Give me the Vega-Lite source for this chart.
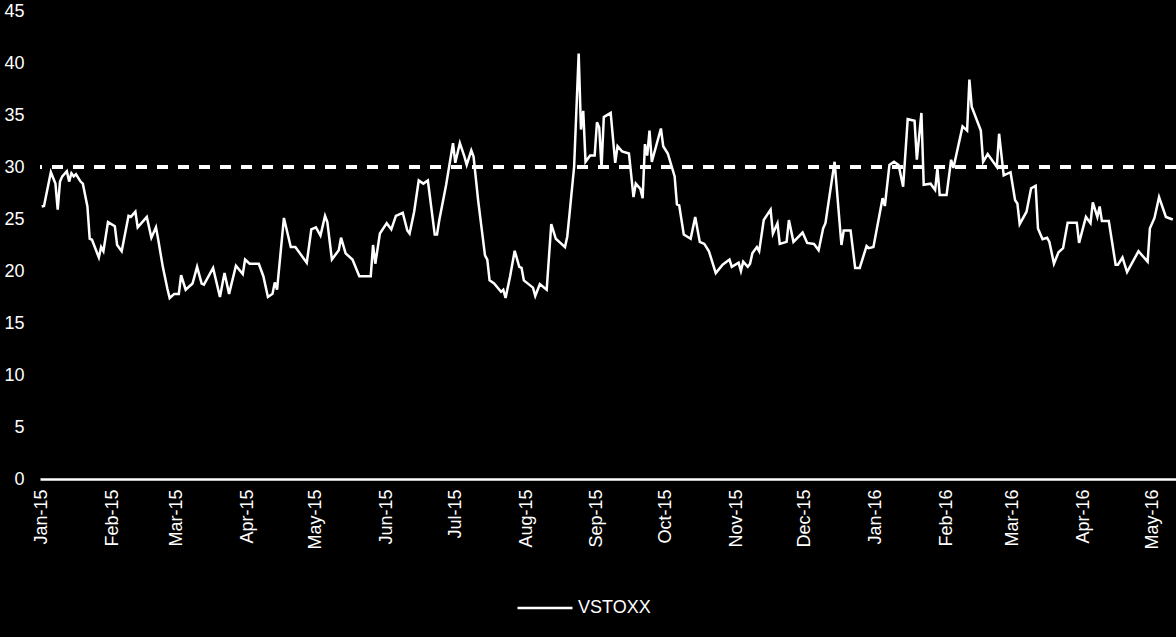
{
"$schema": "https://vega.github.io/schema/vega-lite/v6.json",
"width": 1136,
"height": 468,
"autosize": {"type": "none"},
"padding": {"left": 40, "top": 11, "right": 0, "bottom": 158},
"background": "black",
"config": {"view": {"stroke": null}, "font": "Liberation Sans"},
"data": {"values": [
{"date":"2015-01-01","v":26.2},{"date":"2015-01-02","v":26.25},{"date":"2015-01-05","v":29.5},{"date":"2015-01-07","v":28.4},{"date":"2015-01-08","v":25.9},{"date":"2015-01-09","v":28.6},{"date":"2015-01-10","v":29.1},{"date":"2015-01-12","v":29.6},{"date":"2015-01-13","v":28.6},{"date":"2015-01-14","v":29.4},{"date":"2015-01-15","v":29.1},{"date":"2015-01-16","v":29.3},{"date":"2015-01-18","v":28.6},{"date":"2015-01-19","v":28.4},{"date":"2015-01-21","v":26.2},{"date":"2015-01-22","v":23.1},{"date":"2015-01-23","v":23.0},{"date":"2015-01-26","v":21.3},{"date":"2015-01-27","v":22.3},{"date":"2015-01-28","v":21.9},{"date":"2015-01-30","v":24.7},
{"date":"2015-02-02","v":24.3},{"date":"2015-02-03","v":22.5},{"date":"2015-02-05","v":21.9},{"date":"2015-02-08","v":25.3},{"date":"2015-02-09","v":25.2},{"date":"2015-02-11","v":25.7},{"date":"2015-02-12","v":24.2},{"date":"2015-02-16","v":25.2},{"date":"2015-02-18","v":23.2},{"date":"2015-02-20","v":24.2},{"date":"2015-02-21","v":23.0},{"date":"2015-02-23","v":20.4},{"date":"2015-02-25","v":18.3},{"date":"2015-02-26","v":17.4},{"date":"2015-02-28","v":17.8},
{"date":"2015-03-02","v":17.8},{"date":"2015-03-03","v":19.6},{"date":"2015-03-05","v":18.2},{"date":"2015-03-08","v":18.8},{"date":"2015-03-10","v":20.4},{"date":"2015-03-12","v":18.8},{"date":"2015-03-13","v":18.7},{"date":"2015-03-17","v":20.3},{"date":"2015-03-20","v":17.5},{"date":"2015-03-22","v":19.8},{"date":"2015-03-24","v":17.8},{"date":"2015-03-27","v":20.5},{"date":"2015-03-30","v":19.7},{"date":"2015-03-31","v":21.1},
{"date":"2015-04-02","v":20.7},{"date":"2015-04-06","v":20.7},{"date":"2015-04-08","v":19.5},{"date":"2015-04-10","v":17.5},{"date":"2015-04-12","v":17.8},{"date":"2015-04-13","v":18.9},{"date":"2015-04-14","v":18.2},{"date":"2015-04-17","v":25.1},{"date":"2015-04-20","v":22.3},{"date":"2015-04-22","v":22.3},{"date":"2015-04-25","v":21.4},{"date":"2015-04-27","v":20.8},{"date":"2015-04-29","v":24.0},
{"date":"2015-05-01","v":24.2},{"date":"2015-05-03","v":23.4},{"date":"2015-05-05","v":25.3},{"date":"2015-05-06","v":24.7},{"date":"2015-05-08","v":21.1},{"date":"2015-05-11","v":22.0},{"date":"2015-05-12","v":23.2},{"date":"2015-05-14","v":21.7},{"date":"2015-05-17","v":21.1},{"date":"2015-05-20","v":19.5},{"date":"2015-05-25","v":19.5},{"date":"2015-05-26","v":22.5},{"date":"2015-05-27","v":20.7},{"date":"2015-05-29","v":23.6},
{"date":"2015-06-01","v":24.6},{"date":"2015-06-03","v":24.0},{"date":"2015-06-05","v":25.3},{"date":"2015-06-08","v":25.6},{"date":"2015-06-10","v":23.9},{"date":"2015-06-11","v":23.6},{"date":"2015-06-13","v":25.7},{"date":"2015-06-15","v":28.7},{"date":"2015-06-17","v":28.4},{"date":"2015-06-19","v":28.7},{"date":"2015-06-22","v":23.5},{"date":"2015-06-23","v":23.5},{"date":"2015-06-24","v":24.9},{"date":"2015-06-27","v":28.3},{"date":"2015-06-30","v":32.3},
{"date":"2015-07-01","v":30.4},{"date":"2015-07-03","v":32.3},{"date":"2015-07-05","v":31.0},{"date":"2015-07-06","v":30.2},{"date":"2015-07-08","v":31.6},{"date":"2015-07-09","v":31.0},{"date":"2015-07-11","v":26.8},{"date":"2015-07-14","v":21.5},{"date":"2015-07-15","v":21.1},{"date":"2015-07-16","v":19.1},{"date":"2015-07-18","v":18.8},{"date":"2015-07-21","v":18.0},{"date":"2015-07-22","v":18.2},{"date":"2015-07-23","v":17.4},{"date":"2015-07-25","v":19.5},{"date":"2015-07-27","v":21.95},{"date":"2015-07-29","v":20.4},{"date":"2015-07-30","v":20.3},{"date":"2015-07-31","v":19.1},
{"date":"2015-08-04","v":18.4},{"date":"2015-08-05","v":17.6},{"date":"2015-08-07","v":18.75},{"date":"2015-08-10","v":18.2},{"date":"2015-08-12","v":24.5},{"date":"2015-08-14","v":23.1},{"date":"2015-08-16","v":22.7},{"date":"2015-08-18","v":22.3},{"date":"2015-08-19","v":23.3},{"date":"2015-08-20","v":25.5},{"date":"2015-08-22","v":30.0},{"date":"2015-08-24","v":40.9},{"date":"2015-08-25","v":33.6},{"date":"2015-08-26","v":35.4},{"date":"2015-08-27","v":30.5},{"date":"2015-08-29","v":31.1},{"date":"2015-08-31","v":31.1},
{"date":"2015-09-01","v":34.3},{"date":"2015-09-02","v":33.8},{"date":"2015-09-03","v":29.9},{"date":"2015-09-04","v":34.8},{"date":"2015-09-07","v":35.2},{"date":"2015-09-09","v":30.4},{"date":"2015-09-10","v":32.0},{"date":"2015-09-12","v":31.5},{"date":"2015-09-15","v":31.3},{"date":"2015-09-17","v":27.1},{"date":"2015-09-18","v":28.4},{"date":"2015-09-20","v":27.9},{"date":"2015-09-21","v":27.0},{"date":"2015-09-22","v":32.2},{"date":"2015-09-23","v":31.1},{"date":"2015-09-24","v":33.5},{"date":"2015-09-25","v":30.5},{"date":"2015-09-29","v":33.7},{"date":"2015-09-30","v":32.0},
{"date":"2015-10-02","v":31.3},{"date":"2015-10-05","v":29.1},{"date":"2015-10-06","v":26.4},{"date":"2015-10-07","v":26.3},{"date":"2015-10-09","v":23.5},{"date":"2015-10-12","v":23.1},{"date":"2015-10-14","v":25.2},{"date":"2015-10-16","v":22.8},{"date":"2015-10-18","v":22.6},{"date":"2015-10-20","v":21.9},{"date":"2015-10-23","v":19.8},{"date":"2015-10-26","v":20.6},{"date":"2015-10-29","v":21.1},{"date":"2015-10-30","v":20.4},
{"date":"2015-11-02","v":20.8},{"date":"2015-11-03","v":20.0},{"date":"2015-11-04","v":20.9},{"date":"2015-11-06","v":20.4},{"date":"2015-11-07","v":20.7},{"date":"2015-11-08","v":21.7},{"date":"2015-11-10","v":22.3},{"date":"2015-11-11","v":21.9},{"date":"2015-11-13","v":24.9},{"date":"2015-11-16","v":25.9},{"date":"2015-11-17","v":23.6},{"date":"2015-11-19","v":24.6},{"date":"2015-11-20","v":22.6},{"date":"2015-11-23","v":22.8},{"date":"2015-11-24","v":24.9},{"date":"2015-11-26","v":22.8},{"date":"2015-11-30","v":23.7},
{"date":"2015-12-02","v":22.7},{"date":"2015-12-05","v":22.6},{"date":"2015-12-07","v":22.0},{"date":"2015-12-09","v":24.1},{"date":"2015-12-10","v":24.6},{"date":"2015-12-14","v":30.5},{"date":"2015-12-17","v":22.5},{"date":"2015-12-18","v":23.9},{"date":"2015-12-21","v":23.9},{"date":"2015-12-23","v":20.3},{"date":"2015-12-25","v":20.3},{"date":"2015-12-28","v":22.4},{"date":"2015-12-29","v":22.2},{"date":"2015-12-31","v":22.3},
{"date":"2016-01-04","v":27.0},{"date":"2016-01-05","v":26.25},{"date":"2016-01-07","v":30.2},{"date":"2016-01-09","v":30.5},{"date":"2016-01-11","v":30.2},{"date":"2016-01-13","v":28.1},{"date":"2016-01-15","v":34.6},{"date":"2016-01-18","v":34.45},{"date":"2016-01-19","v":30.7},{"date":"2016-01-21","v":35.2},{"date":"2016-01-22","v":28.3},{"date":"2016-01-25","v":28.4},{"date":"2016-01-27","v":27.8},{"date":"2016-01-28","v":29.9},{"date":"2016-01-29","v":27.3},
{"date":"2016-02-01","v":27.3},{"date":"2016-02-03","v":30.7},{"date":"2016-02-04","v":29.9},{"date":"2016-02-06","v":31.9},{"date":"2016-02-08","v":33.9},{"date":"2016-02-10","v":33.5},{"date":"2016-02-11","v":38.4},{"date":"2016-02-12","v":35.8},{"date":"2016-02-16","v":33.5},{"date":"2016-02-17","v":30.5},{"date":"2016-02-19","v":31.25},{"date":"2016-02-23","v":30.0},{"date":"2016-02-24","v":33.2},{"date":"2016-02-26","v":29.2},{"date":"2016-02-29","v":29.5},
{"date":"2016-03-02","v":26.8},{"date":"2016-03-03","v":26.5},{"date":"2016-03-04","v":24.5},{"date":"2016-03-07","v":25.7},{"date":"2016-03-09","v":27.95},{"date":"2016-03-11","v":28.2},{"date":"2016-03-12","v":24.1},{"date":"2016-03-14","v":23.05},{"date":"2016-03-16","v":23.2},{"date":"2016-03-17","v":22.8},{"date":"2016-03-19","v":20.7},{"date":"2016-03-21","v":21.8},{"date":"2016-03-23","v":22.2},{"date":"2016-03-25","v":24.65},{"date":"2016-03-29","v":24.65},{"date":"2016-03-30","v":22.7},
{"date":"2016-04-02","v":25.2},{"date":"2016-04-04","v":24.6},{"date":"2016-04-05","v":26.6},{"date":"2016-04-07","v":25.2},{"date":"2016-04-08","v":26.2},{"date":"2016-04-09","v":24.8},{"date":"2016-04-12","v":24.8},{"date":"2016-04-15","v":20.6},{"date":"2016-04-16","v":20.6},{"date":"2016-04-18","v":21.3},{"date":"2016-04-20","v":19.9},{"date":"2016-04-25","v":21.9},{"date":"2016-04-29","v":20.9},{"date":"2016-04-30","v":24.1},
{"date":"2016-05-02","v":25.1},{"date":"2016-05-04","v":27.1},{"date":"2016-05-07","v":25.2},{"date":"2016-05-10","v":24.95}
]},
"layer": [
{
"mark": {"type": "line", "strokeWidth": 2.5, "interpolate": "linear"},
"encoding": {
"x": {"field": "date", "type": "temporal",
"scale": {"type": "utc", "domain": [{"year": 2014, "month": 12, "date": 31, "hours": 6, "utc": true}, {"year": 2016, "month": 5, "date": 11, "hours": 10, "utc": true}]},
"axis": {"title": null, "labelExpr": "utcFormat(datum.value, '%b-%y')", "labelAngle": -90, "labelAlign": "right", "labelBaseline": "middle", "labelFlush": false, "labelOverlap": false, "labelPadding": 10, "labelColor": "white", "labelFontSize": 18, "labelFont": "Liberation Sans", "ticks": false, "grid": false, "domainColor": "white", "domainWidth": 2.5,
"values": [
{"year": 2015, "month": 1, "date": 1, "utc": true},{"year": 2015, "month": 2, "date": 1, "utc": true},{"year": 2015, "month": 3, "date": 1, "utc": true},{"year": 2015, "month": 4, "date": 1, "utc": true},{"year": 2015, "month": 5, "date": 1, "utc": true},{"year": 2015, "month": 6, "date": 1, "utc": true},{"year": 2015, "month": 7, "date": 1, "utc": true},{"year": 2015, "month": 8, "date": 1, "utc": true},{"year": 2015, "month": 9, "date": 1, "utc": true},{"year": 2015, "month": 10, "date": 1, "utc": true},{"year": 2015, "month": 11, "date": 1, "utc": true},{"year": 2015, "month": 12, "date": 1, "utc": true},{"year": 2016, "month": 1, "date": 1, "utc": true},{"year": 2016, "month": 2, "date": 1, "utc": true},{"year": 2016, "month": 3, "date": 1, "utc": true},{"year": 2016, "month": 4, "date": 1, "utc": true},{"year": 2016, "month": 5, "date": 1, "utc": true}
]}},
"y": {"field": "v", "type": "quantitative",
"scale": {"domain": [0, 45], "nice": false, "zero": true},
"axis": {"title": null, "values": [0, 5, 10, 15, 20, 25, 30, 35, 40, 45], "domain": false, "ticks": false, "grid": false, "labelPadding": 16, "labelColor": "white", "labelFontSize": 18, "labelFont": "Liberation Sans", "labelFlush": false}},
"color": {"datum": "VSTOXX", "type": "nominal",
"scale": {"range": ["white"]},
"legend": {"title": null, "orient": "none", "legendX": 476, "legendY": 568, "symbolType": "stroke", "symbolSize": 3025, "symbolStrokeWidth": 2.5, "symbolStrokeColor": "white", "labelColor": "white", "labelFontSize": 18, "labelFont": "Liberation Sans", "labelOffset": 4, "padding": 0}}
}
},
{
"mark": {"type": "rule", "color": "white", "strokeWidth": 2.5, "strokeDash": [11, 10]},
"encoding": {"y": {"datum": 30, "type": "quantitative"}}
}
]
}
